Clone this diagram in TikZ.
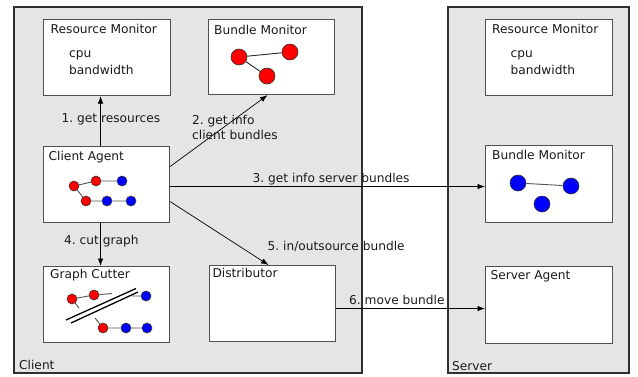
\documentclass[tikz,border=0pt]{standalone}
\usepackage{fontspec}
\setmainfont{DejaVu Sans}
\frenchspacing
\usetikzlibrary{arrows.meta}
\definecolor{contfill}{HTML}{E5E5E5}
\definecolor{boxline}{HTML}{505050}
\definecolor{contline}{HTML}{303030}
\definecolor{txt}{HTML}{1A1A1A}
\definecolor{edgegray}{HTML}{555555}
\tikzset{
  every node/.style={font=\fontsize{12.2}{14}\selectfont, text=txt},
  container/.style={draw=contline, line width=1.3pt, fill=contfill},
  compbox/.style={draw=boxline, line width=1.1pt, fill=white, anchor=north west, inner sep=0pt},
  ttl/.style={anchor=base west, inner sep=0pt},
  lbl/.style={anchor=base west, inner sep=0pt},
  arr/.style={draw=black, line width=0.7pt, -{Latex[length=7.5pt,width=5.5pt]}},
  rdot/.style={circle, draw=black!80, line width=0.6pt, fill=red, inner sep=0pt},
  bdot/.style={circle, draw=black!80, line width=0.6pt, fill=blue, inner sep=0pt},
  gedge/.style={draw=edgegray, line width=0.9pt},
  cutline/.style={draw=black, line width=1.3pt}
}
\begin{document}
\begin{tikzpicture}[x=1pt,y=-1pt]
\useasboundingbox (0,0) rectangle (638,376);
% containers
\path[container] (14,7) rectangle (362,373);
\path[container] (448,7) rectangle (629,373);
\node[ttl] (clientlbl) at (19,369.3) {Client};
\node[ttl] (serverlbl) at (452,370) {Server};
% component boxes
\node[compbox, minimum width=127pt, minimum height=76pt] (rm1) at (43,19) {};
\node[compbox, minimum width=126pt, minimum height=75pt] (bm1) at (208,19) {};
\node[compbox, minimum width=126pt, minimum height=76pt] (ca) at (43,146) {};
\node[compbox, minimum width=126pt, minimum height=76pt] (gc) at (43,266) {};
\node[compbox, minimum width=126pt, minimum height=76pt] (dist) at (209,265) {};
\node[compbox, minimum width=127pt, minimum height=76pt] (rm2) at (485,19) {};
\node[compbox, minimum width=127pt, minimum height=77pt] (bm2) at (485,145) {};
\node[compbox, minimum width=127pt, minimum height=77pt] (sa) at (485,266) {};
% titles
\node[ttl] (rm1t) at (50.5,33.5) {Resource Monitor};
\node[ttl] (rm1a) at (69,57.5) {cpu};
\node[ttl] (rm1b) at (69,74) {bandwidth};
\node[ttl] (bm1t) at (214,34) {Bundle Monitor};
\node[ttl] (cat) at (48.5,160) {Client Agent};
\node[ttl] (gct) at (50,278) {Graph Cutter};
\node[ttl] (distt) at (212.3,277.7) {Distributor};
\node[ttl] (rm2t) at (492,33.5) {Resource Monitor};
\node[ttl] (rm2a) at (510.5,57.5) {cpu};
\node[ttl] (rm2b) at (510.5,74) {bandwidth};
\node[ttl] (bm2t) at (492,159.5) {Bundle Monitor};
\node[ttl] (sat) at (490.3,279.5) {Server Agent};
% client bundle monitor graph
\node[rdot, minimum size=16pt] (p1) at (239,57) {};
\node[rdot, minimum size=16pt] (p2) at (290,52) {};
\node[rdot, minimum size=16pt] (p3) at (267,76) {};
\draw[gedge, draw=black!85] (p1) -- (p2);
\draw[gedge, draw=black!85] (p1) -- (p3);
% client agent graph
\node[rdot, minimum size=10pt] (a1) at (74,186) {};
\node[rdot, minimum size=10pt] (a2) at (96,181) {};
\node[bdot, minimum size=10pt] (a3) at (122,181) {};
\node[rdot, minimum size=10pt] (a4) at (86,201) {};
\node[bdot, minimum size=10pt] (a5) at (107,201) {};
\node[bdot, minimum size=10pt] (a6) at (131,201) {};
\draw[gedge] (a1) -- (a2) (a2) -- (a3) (a1) -- (a4) (a4) -- (a5) (a5) -- (a6);
% graph cutter graph
\node[rdot, minimum size=10pt] (g1) at (72,299) {};
\node[rdot, minimum size=10pt] (g2) at (94,295) {};
\node[bdot, minimum size=10pt] (g3) at (146,296) {};
\node[rdot, minimum size=10pt] (g4) at (103,328) {};
\node[bdot, minimum size=10pt] (g5) at (126,328) {};
\node[bdot, minimum size=10pt] (g6) at (147,328) {};
\coordinate (s1) at (112,293.5);
\coordinate (s2) at (132,296);
\coordinate (s3) at (79,308);
\coordinate (s4) at (95,318);
\draw[gedge] (g1) -- (g2) (g2) -- (s1) (s2) -- (g3) (g1) -- (s3) (s4) -- (g4) (g4) -- (g5) (g5) -- (g6);
\coordinate (k1) at (66,320);
\coordinate (k2) at (136,288.5);
\coordinate (k3) at (71,323);
\coordinate (k4) at (138,292);
\draw[cutline] (k1) -- (k2);
\draw[cutline] (k3) -- (k4);
% server bundle monitor graph
\node[bdot, minimum size=16pt] (q1) at (518,183) {};
\node[bdot, minimum size=16pt] (q2) at (571,186) {};
\node[bdot, minimum size=16pt] (q3) at (542,204) {};
\draw[gedge] (q1) -- (q2);
% connectors
\coordinate (c1) at ([xshift=-6pt]ca.north);
\draw[arr] (c1) -- (c1 |- rm1.south);
\draw[arr] ([yshift=18pt]ca.east) -- ([xshift=-4pt]bm1.south);
\coordinate (c3) at ([yshift=-2pt]ca.east);
\draw[arr] (c3) -- (c3 -| bm2.west);
\coordinate (c4) at ([xshift=-6pt]ca.south);
\draw[arr] (c4) -- (c4 |- gc.north);
\draw[arr] ([yshift=-17pt]ca.east) -- ([xshift=-4pt]dist.north);
\coordinate (c6) at ([yshift=-5pt]dist.east);
\draw[arr] (c6) -- (c6 -| sa.west);
% connector labels
\node[lbl] (l1) at (61.5,122.3) {1. get resources};
\node[lbl] (l2a) at (192,124.5) {2. get info};
\node[lbl] (l2b) at (192,139) {client bundles};
\node[lbl] (l3) at (252.5,182) {3. get info server bundles};
\node[lbl] (l4) at (64,244.3) {4. cut graph};
\node[lbl] (l5) at (267.5,250) {5. in/outsource bundle};
\node[lbl] (l6) at (349,304) {6. move bundle};
\end{tikzpicture}
\end{document}
